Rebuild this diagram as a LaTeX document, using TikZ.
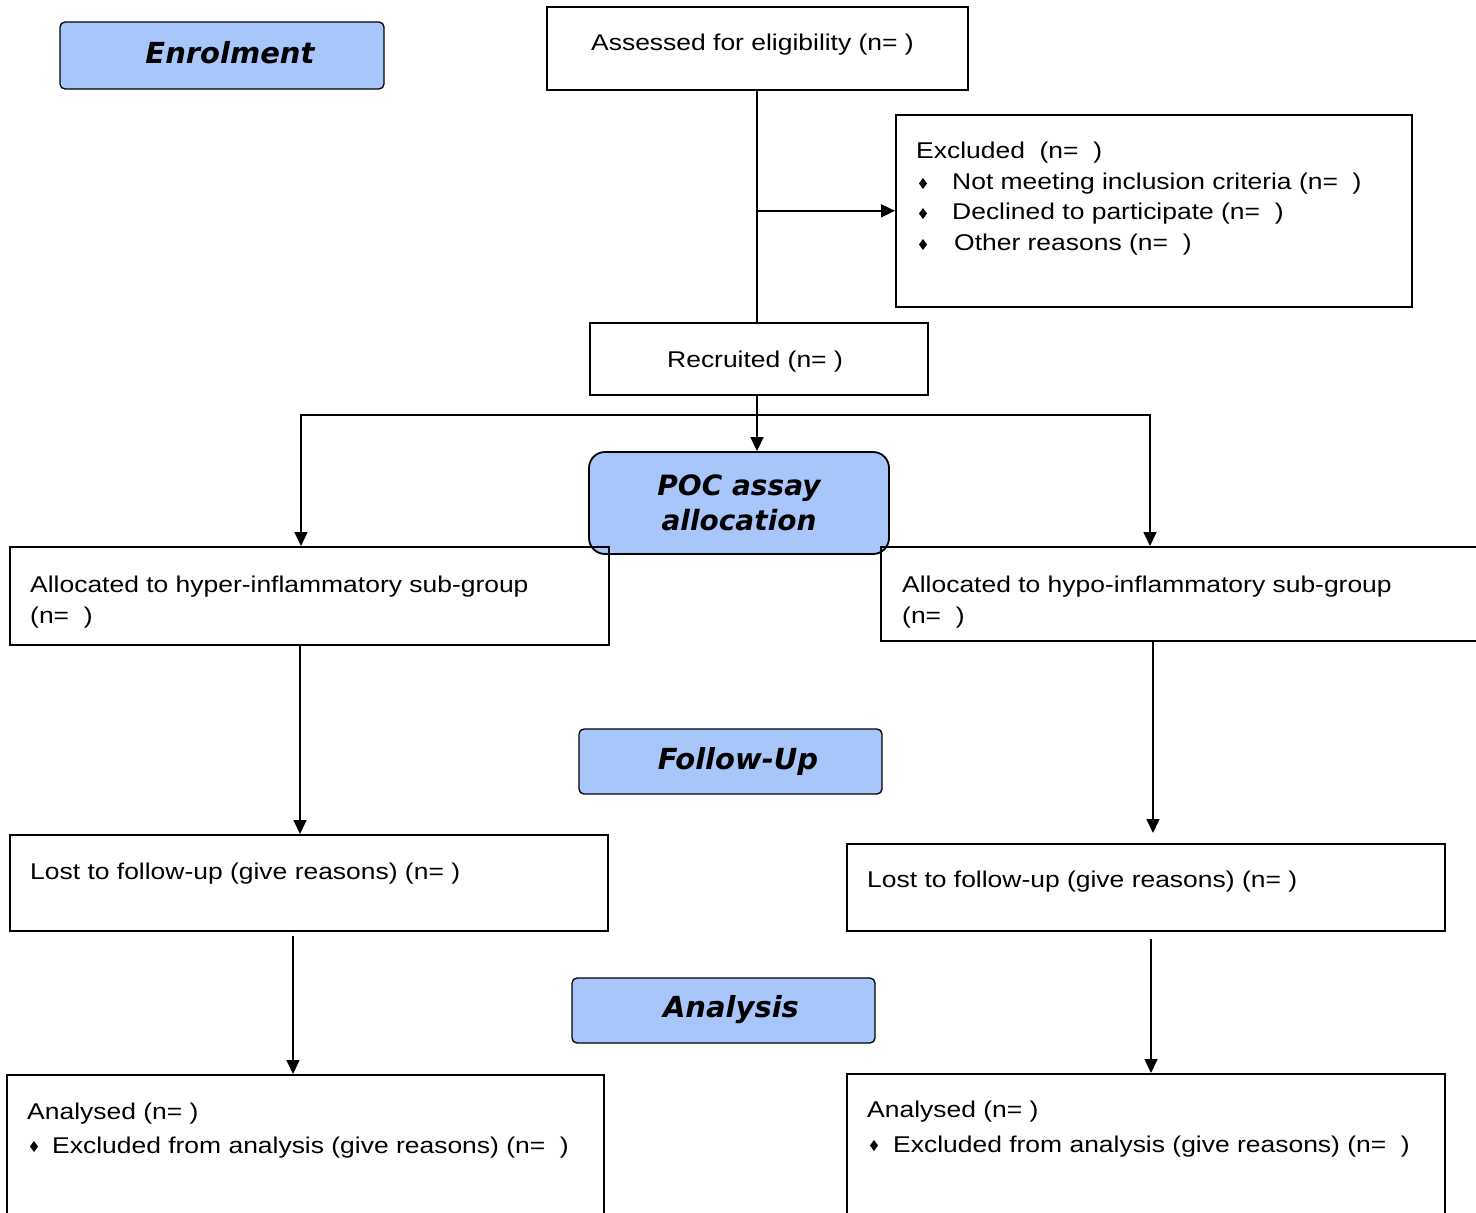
\documentclass[tikz,border=0pt]{standalone}
\usepackage{fontspec}
\setmainfont{Liberation Sans}[FakeStretch=1.16]
\newfontfamily\headfont{DejaVu Sans}
\usetikzlibrary{arrows.meta}
\definecolor{headblue}{RGB}{168,198,250}
\tikzset{
  box/.style={draw=black, line width=1.6pt, rectangle, inner sep=0pt, anchor=north west},
  head/.style={draw=black, line width=1.3pt, fill=headblue, rounded corners=5pt, rectangle, inner sep=0pt},
  headtxt/.style={inner sep=0pt, align=center, font=\headfont\bfseries\itshape\fontsize{29}{35}\selectfont},
  txt/.style={anchor=base west, inner sep=0pt, font=\fontsize{22.8}{27}\selectfont},
  conn/.style={line width=1.6pt, draw=black},
  arr/.style={conn, -{Triangle[length=14pt,width=13pt]}}
}
% diamond bullet: centre x, top y (y grows downward)
\newcommand{\diam}[2]{\fill (#1,#2) -- ++(4,5.5) -- ++(-4,5.5) -- ++(-4,-5.5) -- cycle;}
\begin{document}
\begin{tikzpicture}[x=1pt,y=-1pt]
\useasboundingbox[fill=white] (0,0) rectangle (1476,1213);

% header boxes
\node[head, minimum width=324pt, minimum height=67pt] (enrol) at (222,55.5) {};
\node[headtxt] (enrolt) at (230,53) {Enrolment};
\node[head, minimum width=303pt, minimum height=65pt] (follow) at (730.5,761.5) {};
\node[headtxt] (followt) at (738,761) {Follow-Up};
\node[head, minimum width=303pt, minimum height=65pt] (analysis) at (723.5,1010.5) {};
\node[headtxt] (analysist) at (731,1010) {Analysis};
\node[head, rounded corners=16pt, line width=1.8pt, minimum width=300pt, minimum height=102pt] (poc) at (739,503) {};
\node[headtxt, font=\headfont\bfseries\itshape\fontsize{28}{35}\selectfont] (poct) at (739,503) {POC assay\\allocation};

% boxes
\node[box, minimum width=421pt, minimum height=83pt] (assessed) at (546,6) {};
\node[txt] (assessedt) at (591,50) {Assessed for eligibility (n= )};

\node[box, minimum width=516pt, minimum height=192pt] (excluded) at (895,114) {};
\node[txt] (ex0) at (916,158) {Excluded\ \ (n=\ \ )};
\diam{923}{178}
\node[txt] (ex1) at (952,189) {Not meeting inclusion criteria (n=\ \ )};
\diam{923}{208}
\node[txt] (ex2) at (952,219) {Declined to participate (n=\ \ )};
\diam{923}{239}
\node[txt] (ex3) at (954,250) {Other reasons (n=\ \ )};

\node[box, minimum width=338pt, minimum height=72pt] (recruited) at (589,322) {};
\node[txt] (recruitedt) at (667,367) {Recruited (n= )};

\node[box, minimum width=599pt, minimum height=98pt] (hyper) at (9,546) {};
\node[txt] (hyper1) at (30,592) {Allocated to hyper-inflammatory sub-group};
\node[txt] (hyper2) at (30,623) {(n=\ \ )};

\node[box, minimum width=620pt, minimum height=94pt] (hypo) at (880,546) {};
\node[txt] (hypo1) at (902,592) {Allocated to hypo-inflammatory sub-group};
\node[txt] (hypo2) at (902,623) {(n=\ \ )};

\node[box, minimum width=598pt, minimum height=96pt] (lostL) at (9,834) {};
\node[txt] (lostLt) at (30,879) {Lost to follow-up (give reasons) (n= )};

\node[box, minimum width=598pt, minimum height=87pt] (lostR) at (846,843) {};
\node[txt] (lostRt) at (867,887) {Lost to follow-up (give reasons) (n= )};

\node[box, minimum width=597pt, minimum height=160pt] (anaL) at (6,1074) {};
\node[txt] (anaL1) at (27,1119) {Analysed (n= )};
\diam{34}{1141}
\node[txt] (anaL2) at (52,1153) {Excluded from analysis (give reasons) (n=\ \ )};

\node[box, minimum width=598pt, minimum height=160pt] (anaR) at (846,1073) {};
\node[txt] (anaR1) at (867,1117) {Analysed (n= )};
\diam{874}{1140}
\node[txt] (anaR2) at (893,1152) {Excluded from analysis (give reasons) (n=\ \ )};

% connector columns
\coordinate (cmain) at (757,0);
\coordinate (cL) at (301,0);
\coordinate (cR) at (1150,0);
\coordinate (cL2) at (300,0);
\coordinate (cR2) at (1153,0);
\coordinate (cL3) at (293,0);
\coordinate (cR3) at (1151,0);
\coordinate (split) at (757,415);

% connectors
\draw[conn] (cmain |- assessed.south) -- (cmain |- recruited.north);
\draw[arr] (cmain |- excluded.west) -- (excluded.west);
\draw[arr] (cmain |- recruited.south) -- (cmain |- poc.north);
\draw[arr] (split) -| (cL |- hyper.north);
\draw[arr] (split) -| (cR |- hypo.north);
\draw[arr] (cL2 |- hyper.south) -- (cL2 |- lostL.north);
\draw[arr] (cR2 |- hypo.south) -- ([yshift=10pt]cR2 |- lostR.north);
\draw[arr] ([yshift=-4pt]cL3 |- lostL.south) -- (cL3 |- anaL.north);
\draw[arr] ([yshift=-7pt]cR3 |- lostR.south) -- (cR3 |- anaR.north);
\end{tikzpicture}
\end{document}
